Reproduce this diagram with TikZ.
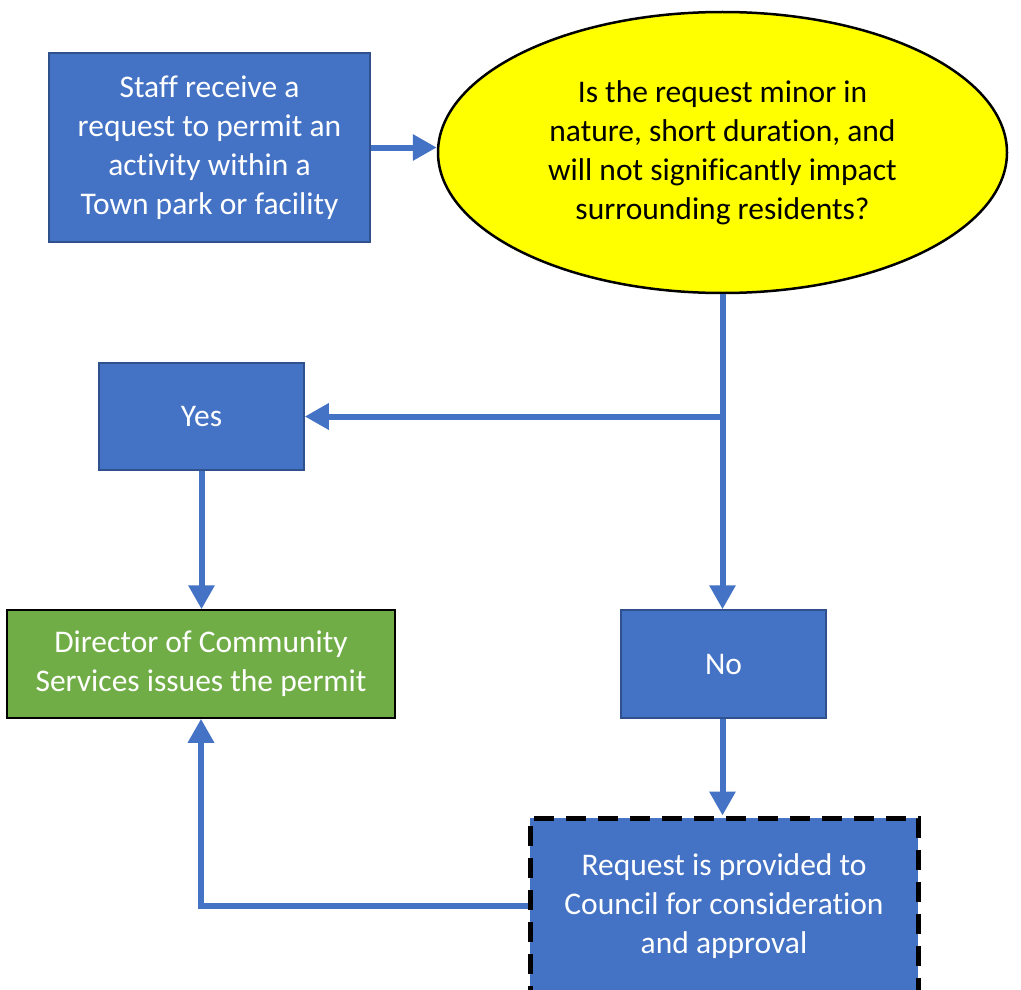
\documentclass[tikz,border=0pt]{standalone}
\usepackage{fontspec}
\setmainfont[Ligatures=NoCommon]{Carlito}
\usetikzlibrary{arrows.meta,shapes.geometric}
\definecolor{boxblue}{HTML}{4472C4}
\definecolor{edgeblue}{HTML}{2F528F}
\definecolor{boxgreen}{HTML}{70AD47}
\definecolor{ellyellow}{HTML}{FFFF00}
\tikzset{
  txt/.style={font=\fontsize{31.5}{39}\selectfont, align=center, inner sep=0pt},
  bluebox/.style={txt, rectangle, fill=boxblue, draw=edgeblue, line width=1.5pt, text=white},
  greenbox/.style={txt, rectangle, fill=boxgreen, draw=black, line width=1.5pt, text=white},
  dashbox/.style={txt, rectangle, fill=boxblue, draw=black, line width=5pt, dash pattern=on 20pt off 12pt, text=white},
  decision/.style={txt, ellipse, fill=ellyellow, draw=black, line width=2.5pt, text=black},
  conn/.style={draw=boxblue, line width=6pt, -{Triangle[length=24pt,width=25pt]}}
}
\begin{document}
\begin{tikzpicture}[x=1pt,y=-1pt]
\useasboundingbox[fill=white] (0,0) rectangle (1021,990);
\clip (0,0) rectangle (1021,990);
\node[bluebox, minimum width=321pt, minimum height=189pt] (staff) at (209.5,147.5)
  {Staff receive a\\request to permit an\\activity within a\\Town park or facility};
\node[decision, minimum width=569pt, minimum height=281pt] (ell) at (722.5,152.5)
  {Is the request minor in\\nature, short duration, and\\will not significantly impact\\surrounding residents?};
\node[bluebox, minimum width=205pt, minimum height=107pt] (yes) at (201.5,416.5) {Yes};
\node[bluebox, minimum width=205pt, minimum height=108pt] (no) at (723.5,664) {No};
\node[greenbox, minimum width=388pt, minimum height=108pt] (dir) at (201,664)
  {Director of Community\\Services issues the permit};
\node[dashbox, minimum width=388pt, minimum height=176pt] (req) at (724,906)
  {Request is provided to\\Council for consideration\\and approval};
\coordinate (j) at (ell.south |- yes.east);
\draw[conn] (staff.east) -- (ell.west |- staff.east);
\draw[conn] (ell.south) -- (ell.south |- no.north);
\draw[conn] (j) -- (yes.east);
\draw[conn] (yes.south) -- (yes.south |- dir.north);
\draw[conn] (no.south -| ell.south) -- (req.north -| ell.south);
\draw[conn] (req.west) -- (req.west -| dir.south) -- (dir.south);
\end{tikzpicture}
\end{document}
